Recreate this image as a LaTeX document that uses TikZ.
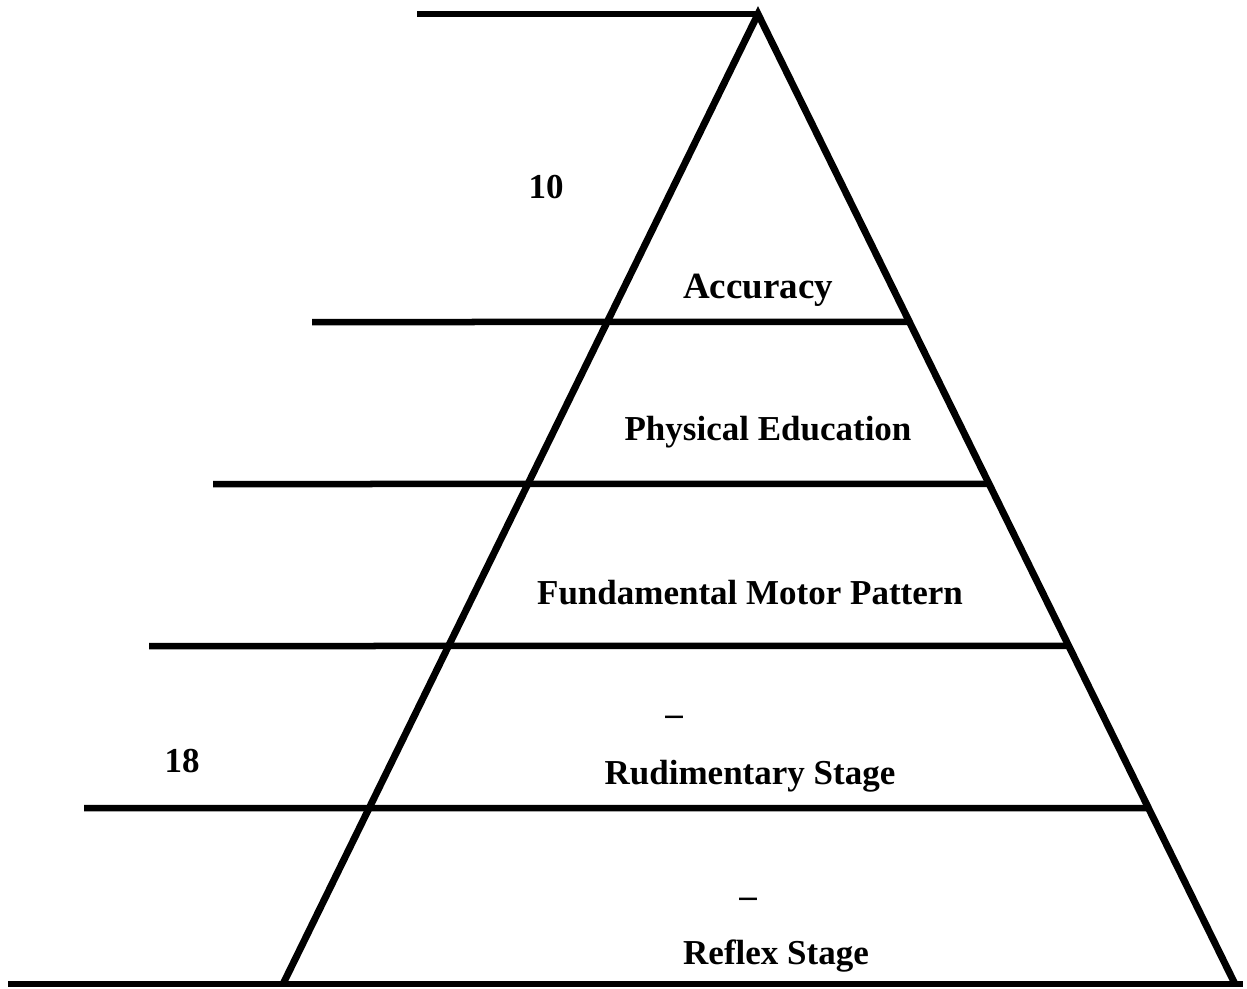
\documentclass[tikz,border=0pt]{standalone}
\usepackage{fontspec}
\setmainfont{Liberation Serif}
\usetikzlibrary{calc}
\begin{document}
\begin{tikzpicture}[x=1pt,y=-1pt,
  rule/.style={line width=6.5pt},
  sideline/.style={line width=7pt, line join=miter},
  lbl/.style={font=\fontsize{35}{42}\selectfont\bfseries, inner sep=0pt, anchor=base},
  dashlbl/.style={font=\fontsize{35}{42}\selectfont\bfseries, inner sep=0pt, anchor=center}]
\useasboundingbox (0,0) rectangle (1247,988);
% triangle
\coordinate (apex) at (758,14);
\coordinate (bl) at (283,984);
\coordinate (br) at (1235,984);
\draw[sideline] (bl) -- (apex) -- (br);
% horizontal rules
\coordinate (t0) at (417,14);
\draw[rule] (t0) -- (apex);
\coordinate (l1) at (312,322);
\coordinate (l2) at (213,484);
\coordinate (l3) at (149,646);
\coordinate (l4) at (84,808);
\coordinate (l5) at (8,984);
\coordinate (r5) at (1243,984);
\coordinate (r1) at ($(apex)!0.3175!(br)$);
\coordinate (r2) at ($(apex)!0.4845!(br)$);
\coordinate (r3) at ($(apex)!0.6515!(br)$);
\coordinate (r4) at ($(apex)!0.8186!(br)$);
\draw[rule] (l1) -- (r1);
\draw[rule] (l2) -- (r2);
\draw[rule] (l3) -- (r3);
\draw[rule] (l4) -- (r4);
\draw[rule] (l5) -- (r5);
% labels
\node[lbl] (n10) at (546,198) {10};
\node[lbl, font=\fontsize{37}{44}\selectfont\bfseries] (acc) at (758,298) {Accuracy};
\node[lbl] (pe) at (768,440) {Physical Education};
\node[lbl] (fmp) at (750,604) {Fundamental Motor Pattern};
\node[dashlbl] (d1) at (674,721) {–};
\node[lbl] (rud) at (750,784) {Rudimentary Stage};
\node[lbl] (n18) at (182,772) {18};
\node[dashlbl] (d2) at (748,903) {–};
\node[lbl] (ref) at (776,964) {Reflex Stage};
\end{tikzpicture}
\end{document}
